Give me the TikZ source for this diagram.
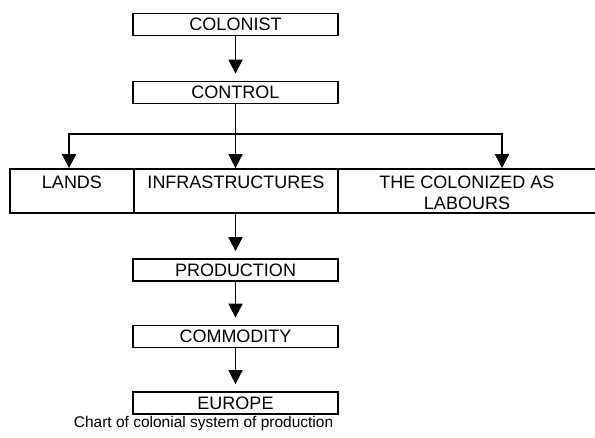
\documentclass[tikz,border=0pt]{standalone}
\usepackage{fontspec}
\setmainfont{Liberation Sans}
\usetikzlibrary{arrows.meta}
\begin{document}
\begin{tikzpicture}[x=1pt,y=-1pt,
  box/.style={draw,line width=1.8pt,rectangle,minimum width=205pt,minimum height=22pt,
    inner ysep=0pt,text height=12.9pt,text depth=0pt,font=\fontsize{18}{20.5}\selectfont},
  cell/.style={draw,line width=1.8pt,rectangle,minimum height=44pt,inner xsep=0pt,inner ysep=0pt,
    text height=19.5pt,text depth=24.5pt,align=center,font=\fontsize{18}{20.5}\selectfont},
  conn/.style={line width=1.8pt,line join=miter},
  arr/.style={conn,-{Triangle[length=14pt,width=14pt]}},
  arrs/.style={arr,shorten >=7pt}]
\useasboundingbox (0,0) rectangle (595,437);
\fill[white] (0,0) rectangle (595,437);
\node[box] (colonist) at (235.5,24.5) {COLONIST};
\node[box] (control) at (235.5,92.5) {CONTROL};
\node[cell,minimum width=124pt] (lands) at (72,191) {LANDS};
\node[cell,minimum width=204pt] (infra) at (236,191) {INFRASTRUCTURES};
\node[cell,minimum width=258pt,text height=40pt,text depth=4pt] (colonized) at (467,191) {THE COLONIZED AS\\LABOURS};
\node[box] (production) at (235.5,270) {PRODUCTION};
\node[box] (commodity) at (235.5,336.5) {COMMODITY};
\node[box] (europe) at (235.5,403) {EUROPE};
\node[font=\fontsize{15.5}{18}\selectfont,inner sep=0pt] (caption) at (203.5,423.5) {Chart of colonial system of production};
\coordinate (jl) at (69,134);
\coordinate (jr) at (502,134);
\draw[arrs] (colonist.south) -- (control.north);
\draw[arr] (control.south) -- (infra.north -| control.south);
\draw[arr] (control.south |- jl) -| (jl |- lands.north);
\draw[arr] (control.south |- jr) -| (jr |- colonized.north);
\draw[arrs] (infra.south -| control.south) -- (production.north);
\draw[arrs] (production.south) -- (commodity.north);
\draw[arrs] (commodity.south) -- (europe.north);
\end{tikzpicture}
\end{document}
